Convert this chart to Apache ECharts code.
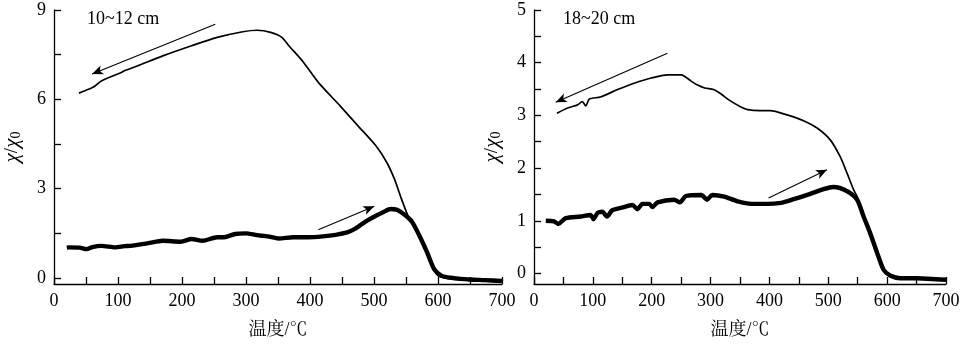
<!DOCTYPE html>
<html>
<head>
<meta charset="utf-8">
<script src="https://cdn.jsdelivr.net/npm/echarts@6/dist/echarts.min.js"></script>
<style>html,body{margin:0;padding:0;background:#fff;}#c{width:968px;height:348px;}</style>
</head>
<body>
<div id="c"></div>
<script>
// ---- Panel A: 10~12 cm ----
const heatA_t = [20, 24, 40, 51, 60, 74, 96, 110, 119, 147, 170, 198, 215, 232, 255, 266, 283, 300, 317, 334, 351, 374, 397, 420, 440, 458, 470, 481, 492, 503, 515, 526, 535, 543, 552, 560, 571, 583, 594, 605, 615, 628, 650, 673, 700];
const heatA_v = [1.02, 1.03, 1.02, 0.97, 1.04, 1.08, 1.03, 1.07, 1.08, 1.17, 1.25, 1.22, 1.31, 1.25, 1.37, 1.37, 1.48, 1.50, 1.44, 1.40, 1.33, 1.37, 1.37, 1.40, 1.45, 1.53, 1.65, 1.81, 1.96, 2.09, 2.22, 2.32, 2.30, 2.20, 2.05, 1.87, 1.42, 0.86, 0.30, 0.08, 0.02, -0.01, -0.05, -0.07, -0.10];
const coolA_t = [700, 650, 620, 600, 590, 580, 570, 560, 554, 543, 532, 520, 503, 475, 447, 413, 390, 367, 356, 340, 317, 295, 255, 215, 170, 130, 110, 105, 74, 64, 60, 54, 39];
const coolA_v = [-0.12, -0.08, -0.03, 0.08, 0.45, 0.95, 1.50, 1.85, 2.04, 2.65, 3.32, 3.88, 4.44, 5.11, 5.78, 6.57, 7.24, 7.80, 8.08, 8.24, 8.32, 8.27, 8.08, 7.80, 7.46, 7.12, 6.96, 6.90, 6.62, 6.45, 6.40, 6.34, 6.21];
const arrowsA = [[[252, 8.52], [59.5, 6.85]], [[413, 1.62], [500.5, 2.41]]];
const labelA = '10~12 cm';
const yTicksA = [0, 1.5, 3, 4.5, 6, 7.5, 9];
const yLabelsA = [0, 3, 6, 9];

// ---- Panel B: 18~20 cm ----
const heatB_t = [20, 34, 41, 54, 79, 96, 101, 108, 116, 124, 133, 153, 167, 176, 184, 196, 201, 210, 238, 248, 258, 284, 294, 303, 323, 346, 374, 397, 420, 430, 464, 492, 509, 532, 549, 560, 571, 583, 594, 605, 622, 650, 700];
const heatB_v = [1.00, 0.99, 0.94, 1.05, 1.08, 1.11, 1.03, 1.15, 1.17, 1.08, 1.20, 1.26, 1.30, 1.22, 1.32, 1.32, 1.26, 1.35, 1.40, 1.35, 1.47, 1.49, 1.40, 1.49, 1.46, 1.37, 1.32, 1.32, 1.34, 1.37, 1.49, 1.60, 1.64, 1.56, 1.40, 1.08, 0.77, 0.39, 0.07, -0.04, -0.09, -0.09, -0.12];
const coolB_t = [700, 650, 620, 600, 594, 583, 571, 560, 549, 543, 532, 520, 503, 481, 458, 430, 401, 384, 363, 350, 333, 316, 305, 290, 277, 267, 250, 227, 199, 170, 142, 113, 94, 88, 82, 74, 57, 39];
const coolB_v = [-0.13, -0.10, -0.07, 0.00, 0.10, 0.42, 0.80, 1.10, 1.46, 1.59, 1.90, 2.22, 2.54, 2.76, 2.90, 3.01, 3.09, 3.09, 3.11, 3.17, 3.28, 3.42, 3.49, 3.52, 3.58, 3.65, 3.77, 3.77, 3.71, 3.61, 3.49, 3.35, 3.31, 3.18, 3.26, 3.20, 3.14, 3.04];
const arrowsB = [[[226.7, 4.18], [36.9, 3.25]], [[398.5, 1.43], [497.8, 1.97]]];
const labelB = '18~20 cm';
const yTicksB = [0, 0.5, 1, 1.5, 2, 2.5, 3, 3.5, 4, 4.5, 5];
const yLabelsB = [0, 1, 2, 3, 4, 5];

// ---- shared axes ----
const xTicks = [0, 50, 100, 150, 200, 250, 300, 350, 400, 450, 500, 550, 600, 650, 700];
const xLabels = [0, 100, 200, 300, 400, 500, 600, 700];
const xName = '温度/℃';

const zip = (a, b) => a.map((v, i) => [v, b[i]]);
const FONT = '"Liberation Serif", "Noto Serif CJK SC", "Noto Sans CJK SC", serif';
const axisLineStyle = { color: '#000', width: 1.3 };

function xAxis(gi) {
  return {
    type: 'value', gridIndex: gi, min: 0, max: 700,
    name: xName, nameLocation: 'middle', nameGap: 37,
    nameTextStyle: { fontFamily: FONT, fontSize: 18, color: '#000' },
    axisLine: { onZero: false, lineStyle: axisLineStyle },
    axisTick: { inside: true, length: 7, lineStyle: axisLineStyle, customValues: xTicks },
    axisLabel: { fontFamily: FONT, fontSize: 18, color: '#000', margin: 8, customValues: xLabels },
    splitLine: { show: false }
  };
}
function yAxis(gi, max, ticks, labels) {
  return {
    type: 'value', gridIndex: gi, min: -0.2, max: max,
    name: '{a|χ}{b|/}{a|χ}{s|0}', nameLocation: 'middle', nameGap: 31, nameRotate: 90,
    nameTextStyle: {
      fontFamily: FONT, fontSize: 18, color: '#000',
      rich: {
        a: { fontFamily: FONT, fontSize: 21, fontStyle: 'italic', color: '#000' },
        b: { fontFamily: FONT, fontSize: 19, color: '#000' },
        s: { fontFamily: FONT, fontSize: 14, color: '#000', verticalAlign: 'bottom', padding: [7, 0, 0, 0] }
      }
    },
    axisLine: { show: true, onZero: false, lineStyle: axisLineStyle },
    axisTick: { show: true, inside: true, length: 7, lineStyle: axisLineStyle, customValues: ticks },
    axisLabel: { fontFamily: FONT, fontSize: 18, color: '#000', margin: 8, customValues: labels },
    splitLine: { show: false }
  };
}
function arrowMark(arrows) {
  return {
    silent: true, animation: false,
    symbol: ['none', 'arrow'], symbolSize: [7, 11],
    label: { show: false },
    lineStyle: { color: '#000', width: 1.1, type: 'solid' },
    emphasis: { disabled: true },
    data: arrows.map(a => [{ coord: a[0] }, { coord: a[1] }])
  };
}
function line(gi, data, w, mark) {
  const s = {
    type: 'line', xAxisIndex: gi, yAxisIndex: gi, data: data,
    showSymbol: false, symbol: 'none', smooth: 0.25,
    lineStyle: { color: '#000', width: w }, itemStyle: { color: '#000' },
    animation: false, silent: true
  };
  if (mark) s.markLine = mark;
  return s;
}

const chart = echarts.init(document.getElementById('c'), null, { renderer: 'canvas' });
chart.setOption({
  backgroundColor: '#fff',
  animation: false,
  grid: [
    { left: 54, right: 466, top: 10, bottom: 64 },
    { left: 534, right: 22, top: 10, bottom: 64 }
  ],
  xAxis: [xAxis(0), xAxis(1)],
  yAxis: [yAxis(0, 9, yTicksA, yLabelsA), yAxis(1, 5, yTicksB, yLabelsB)],
  graphic: [
    { type: 'text', left: 87, top: 10, style: { text: labelA, font: '18px ' + FONT, fill: '#000' } },
    { type: 'text', left: 563, top: 10, style: { text: labelB, font: '18px ' + FONT, fill: '#000' } }
  ],
  series: [
    line(0, zip(coolA_t, coolA_v), 1.7, arrowMark(arrowsA)),
    line(0, zip(heatA_t, heatA_v), 4.4, null),
    line(1, zip(coolB_t, coolB_v), 1.7, arrowMark(arrowsB)),
    line(1, zip(heatB_t, heatB_v), 4.4, null)
  ]
});
</script>
</body>
</html>
